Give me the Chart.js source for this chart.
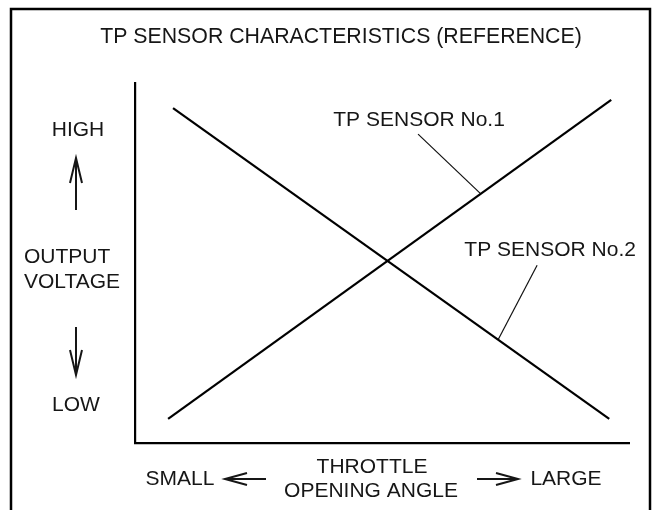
<!DOCTYPE html>
<html>
<head>
<meta charset="utf-8">
<script src="https://cdn.jsdelivr.net/npm/chart.js@4.4.1/dist/chart.umd.min.js"></script>
<style>
  html, body { margin: 0; padding: 0; background: #fff; }
</style>
</head>
<body>
<canvas id="tpChart" width="652" height="510"></canvas>
<script>
// ====================== DATA ======================
// throttle opening (x) vs output voltage (y), both in arbitrary 0..10 units
const sensor1X = [0.67, 9.64];
const sensor1Y = [0.67, 9.53];
const sensor2X = [0.77, 9.60];
const sensor2Y = [9.30, 0.67];

// callout leaders, label end first, curve end second
const leader1X = [5.73, 7.00];
const leader1Y = [8.58, 6.92];
const leader2X = [8.14, 7.35];
const leader2Y = [4.94, 2.87];

const seriesNames = ['TP SENSOR No.1', 'TP SENSOR No.2'];
const titleText = 'TP SENSOR CHARACTERISTICS (REFERENCE)';
const yWords = { high: 'HIGH', low: 'LOW', name: ['OUTPUT', 'VOLTAGE'] };
const xWords = { small: 'SMALL', large: 'LARGE', name: ['THROTTLE', 'OPENING ANGLE'] };

const INK = '#161616';
const FAMILY = '"Liberation Sans", Arial, Helvetica, sans-serif';
const FONT = '21px ' + FAMILY;

const toPoints = (xs, ys) => xs.map((x, i) => ({ x, y: ys[i] }));

// open-headed arrow: shaft from (x1,y1) to tip (x2,y2)
function arrow(ctx, x1, y1, x2, y2, len, half) {
    const a = Math.atan2(y2 - y1, x2 - x1);
    const bx = x2 - Math.cos(a) * len, by = y2 - Math.sin(a) * len;
    const nx = -Math.sin(a) * half, ny = Math.cos(a) * half;
    ctx.beginPath();
    ctx.moveTo(x1, y1); ctx.lineTo(x2, y2);
    ctx.moveTo(bx + nx, by + ny); ctx.lineTo(x2, y2); ctx.lineTo(bx - nx, by - ny);
    ctx.stroke();
}

// frame, title, axis wording and series callouts
const diagramText = {
    id: 'diagramText',
    afterDraw(chart) {
        const { ctx, scales: { x, y } } = chart;
        ctx.save();
        ctx.strokeStyle = '#000';
        ctx.lineWidth = 2.5;
        ctx.strokeRect(11, 9, 639, 600);

        ctx.fillStyle = INK;
        ctx.textBaseline = 'middle';
        ctx.textAlign = 'center';
        ctx.font = '21.3px ' + FAMILY;
        ctx.fillText(titleText, 341, 37);

        ctx.font = FONT;
        // y-axis wording
        ctx.fillText(yWords.high, 78, 130);
        ctx.fillText(yWords.low, 76, 405);
        ctx.textAlign = 'left';
        ctx.fillText(yWords.name[0], 24, 257);
        ctx.fillText(yWords.name[1], 24, 282);

        // x-axis wording
        ctx.textAlign = 'center';
        ctx.fillText(xWords.name[0], 372, 467);
        ctx.fillText(xWords.name[1], 371, 491);
        ctx.fillText(xWords.small, 180, 479);
        ctx.fillText(xWords.large, 566, 479);

        ctx.strokeStyle = INK;
        ctx.lineWidth = 2;
        arrow(ctx, 76, 210, 76, 158, 25, 6);
        arrow(ctx, 76, 327, 76, 375, 25, 6);
        arrow(ctx, 266, 479, 225, 479, 22, 6);
        arrow(ctx, 477, 479, 518, 479, 22, 6);

        // series callouts sit just above their leader
        ctx.fillText(seriesNames[0], x.getPixelForValue(leader1X[0]) + 1, y.getPixelForValue(leader1Y[0]) - 14);
        ctx.fillText(seriesNames[1], x.getPixelForValue(leader2X[0]) + 13, y.getPixelForValue(leader2Y[0]) - 15);
        ctx.restore();
    }
};

const curve = (label, data) => ({
    label, data, borderColor: '#000', borderWidth: 2.2,
    pointRadius: 0, pointHoverRadius: 0, tension: 0, fill: false
});
const leader = data => ({
    label: '', data, borderColor: '#111', borderWidth: 1.2,
    pointRadius: 0, pointHoverRadius: 0, tension: 0, fill: false
});

const axis = (pos) => ({
    type: 'linear', position: pos, min: 0, max: 10,
    grid: { display: false, drawTicks: false },
    ticks: { display: false },
    border: { display: true, color: '#000', width: 2.2 }
});

new Chart(document.getElementById('tpChart').getContext('2d'), {
    type: 'line',
    data: {
        datasets: [
            curve(seriesNames[0], toPoints(sensor1X, sensor1Y)),
            curve(seriesNames[1], toPoints(sensor2X, sensor2Y)),
            leader(toPoints(leader1X, leader1Y)),
            leader(toPoints(leader2X, leader2Y))
        ]
    },
    options: {
        responsive: false,
        animation: false,
        layout: { autoPadding: false, padding: { left: 135, right: 23, top: 83, bottom: 67 } },
        plugins: { legend: { display: false }, tooltip: { enabled: false }, title: { display: false } },
        scales: { x: axis('bottom'), y: axis('left') }
    },
    plugins: [diagramText]
});
</script>
</body>
</html>
